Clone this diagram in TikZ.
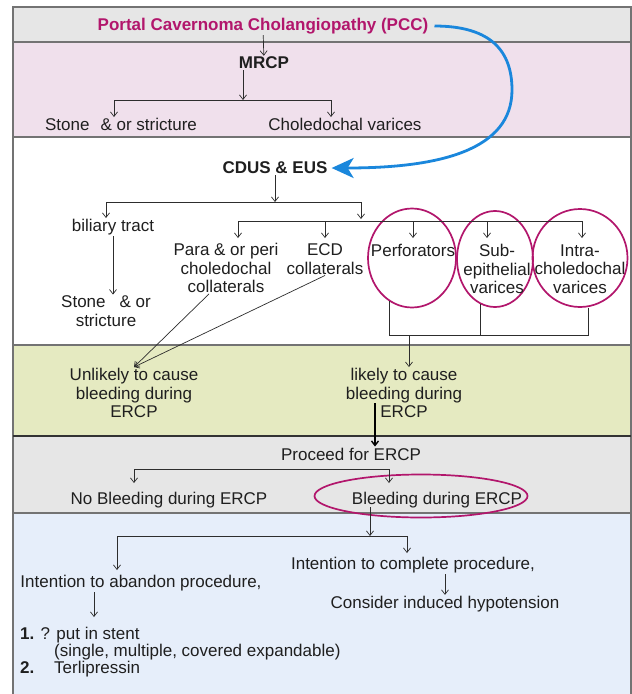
\documentclass[tikz,border=0pt]{standalone}
\usepackage{fontspec}
\setmainfont{Liberation Sans}
\usetikzlibrary{arrows.meta, positioning, shapes.geometric}
\definecolor{pccred}{RGB}{178,22,108}
\definecolor{pccblue}{RGB}{26,135,220}
\definecolor{bandgray}{RGB}{230,230,230}
\definecolor{bandpink}{RGB}{240,224,236}
\definecolor{bandgreen}{RGB}{229,234,193}
\definecolor{bandblue}{RGB}{230,238,250}
\definecolor{inkgray}{RGB}{45,45,45}

\tikzset{
  lbl/.style={inner sep=1pt, align=center, text=black!88,
              font=\fontsize{17}{18.5}\selectfont},
  hd/.style={lbl, font=\bfseries\fontsize{17}{18.5}\selectfont},
  varix/.style={ellipse, draw=pccred, line width=1.7pt, inner sep=0pt},
  band/.style={draw=black!55, line width=1.1pt},
  flow/.style={->, inkgray, line width=0.7pt},
  >={Straight Barb[length=4.5pt,width=7pt]}
}

\begin{document}
\begin{tikzpicture}[x=1pt, y=-1pt]
  \useasboundingbox (0,0) rectangle (632,694);
  % background bands
  \fill[bandgray]  (13,7)   rectangle (631,42);
  \fill[bandpink]  (13,42)  rectangle (631,137);
  \fill[white]     (13,137) rectangle (631,345);
  \fill[bandgreen] (13,345) rectangle (631,436);
  \fill[bandgray]  (13,436) rectangle (631,513);
  \fill[bandblue]  (13,513) rectangle (631,694);
  \draw[band] (13,694) -- (13,7) -- (631,7) -- (631,694);
  \foreach \y in {42,137,345,513}{
    \draw[band] (13,\y) -- (631,\y);
  }
  \draw[line width=2.2pt, black!80] (13,436) -- (631,436);

  % labels
  \node[hd, text=pccred] (pcc) at (263,26) {Portal Cavernoma Cholangiopathy (PCC)};
  \node[hd] (mrcp) at (264,63) {MRCP};
  \node[lbl] (stone1) at (121,124) {Stone\hspace{11pt}\& or stricture};
  \node[lbl] (chol) at (345,124) {Choledochal varices};
  \node[hd] (cdus) at (275,168) {CDUS \& EUS};
  \node[lbl] (biliary) at (113,227) {biliary tract};
  \node[lbl] (stone2) at (106,311) {Stone\hspace{14pt}\& or\\stricture};
  \node[lbl] (para) at (226,268) {Para \& or peri\\choledochal\\collaterals};
  \node[lbl] (ecd) at (325,259) {ECD\\collaterals};
  \node[varix, minimum width=88pt, minimum height=99pt] (perf) at (412,258) {};
  \node[varix, minimum width=76pt, minimum height=96pt] (sub) at (495,259) {};
  \node[varix, minimum width=95pt, minimum height=98pt] (intra) at (580,258) {};
  \node[lbl] (perft) at (413,250) {Perforators};
  \node[lbl] (subt) at (497,269) {Sub-\\epithelial\\varices};
  \node[lbl] (intrat) at (580,269) {Intra-\\choledochal\\varices};
  \node[lbl] (unl) at (134,393) {Unlikely to cause\\bleeding during\\ERCP};
  \node[lbl] (lik) at (404,393) {likely to cause\\bleeding during\\ERCP};
  \node[lbl] (proc) at (351,454) {Proceed for ERCP};
  \node[lbl] (nobl) at (169,500) {No Bleeding during ERCP};
  \node[lbl] (bl) at (437,500) {Bleeding during ERCP};
  \node[varix, minimum width=213pt, minimum height=43pt] (blring) at (421,496) {};
  \node[lbl] (abandon) at (141,583) {Intention to abandon procedure,};
  \node[lbl] (complete) at (413,565) {Intention to complete procedure,};
  \node[lbl] (hypo) at (445,604) {Consider induced hypotension};
  \node[lbl, align=left, anchor=north west,
        font=\fontsize{17}{17}\selectfont] (steps) at (19,626)
    {\textbf{1.} ? put in stent\\
     \hspace*{34pt}(single, multiple, covered expandable)\\
     \makebox[34pt][l]{\textbf{2.}}Terlipressin};

  % junction points
  \coordinate (mb) at (243,100);
  \coordinate (m1) at (114,117);
  \coordinate (m2) at (331,117);
  \coordinate (cb) at (275,202);
  \coordinate (c1) at (106,218);
  \coordinate (c2) at (361,219);
  \coordinate (vj) at (409,335);
  \coordinate (ia) at ([xshift=8pt]intra.south);
  \coordinate (lk) at (375,403);
  \coordinate (pb) at (351,469);
  \coordinate (p1) at (134,483);
  \coordinate (p2) at (389,483);
  \coordinate (q0) at (370,507);
  \coordinate (qb) at (370,536);
  \coordinate (q1) at (117,570);
  \coordinate (q2) at (407,553);
  \coordinate (r1) at (94,617);

  % connectors
  \draw[flow] (pcc) -- (mrcp);
  \draw[flow] (mrcp.south -| mb) -- (mb);
  \draw[flow, <->] (m1) -- (m1 |- mb) -- (m2 |- mb) -- (m2);
  \draw[flow] (cdus.south) -- (cb);
  \draw[flow, <->] (c1) -- (c1 |- cb) -- (c2 |- cb) -- (c2);
  \draw[flow, -] (238,221) -- (582,221);
  \foreach \x in {238,325,413,487,582}{
    \draw[flow] (\x,221) -- (\x,238);
  }
  \draw[flow] (biliary.south) -- (biliary.south |- stone2.north);
  \draw[flow] ([xshift=-17pt]para.south) -- (unl.north);
  \draw[flow] (ecd.south) -- (unl.north);
  \draw[flow, -] (perf.-118) -- (perf.-118 |- vj) -- (ia |- vj) -- (ia);
  \draw[flow, -] (sub.-108) -- (sub.-108 |- vj);
  \draw[flow] (vj) -- (vj |- lik.north);
  \draw[flow, line width=1.4pt, black] (lk) -- (lk |- proc.north);
  \draw[flow, <->] (p1) -- (p1 |- pb) -- (p2 |- pb) -- (p2);
  \draw[flow] (q0) -- (qb);
  \draw[flow, <->] (q1) -- (q1 |- qb) -- (q2 |- qb) -- (q2);
  \draw[flow] (abandon.south -| r1) -- (r1);
  \draw[flow] (complete.south -| hypo) -- (hypo.north);

  % PCC loops round to CDUS & EUS
  \draw[pccblue, line width=2.8pt, -{Stealth[length=22pt,width=20pt,inset=6pt]}]
    ([xshift=5pt]pcc.east) .. controls (492,26) and (512,52) .. (512,90)
    .. controls (512,150) and (440,168) .. ([xshift=3pt]cdus.east);
\end{tikzpicture}
\end{document}
